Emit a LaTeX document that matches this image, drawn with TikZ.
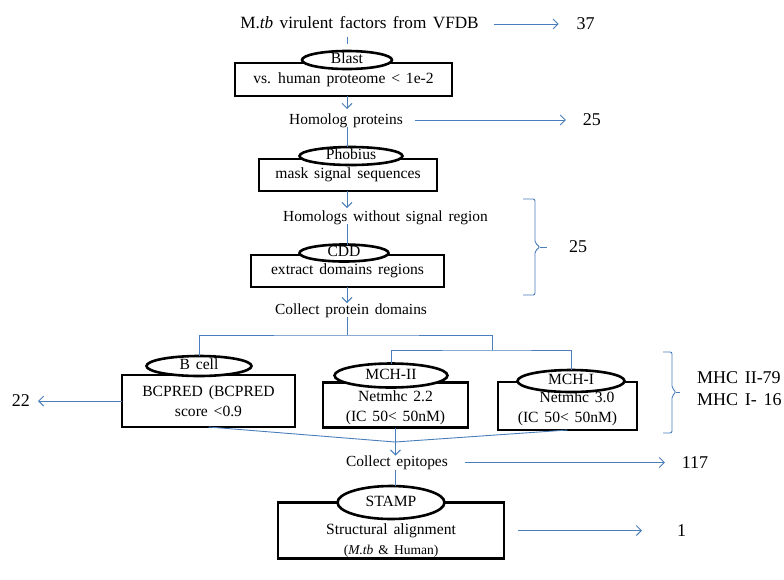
\documentclass[tikz,border=0pt]{standalone}
\usepackage{fontspec}
\setmainfont{Liberation Serif}[WordSpace=1.5]
\usetikzlibrary{arrows.meta,positioning,shapes.geometric}
\definecolor{linienblau}{RGB}{74,126,187}
\begin{document}
\begin{tikzpicture}
  [x=1pt,y=1pt,
  kasten/.style={rectangle,draw=black,line width=2.6pt,inner sep=0pt,outer sep=0pt,align=center,font=\fontsize{15.6}{20}\selectfont},
  oval/.style={ellipse,draw=black,line width=2.6pt,fill=white,inner sep=0pt,outer sep=0pt,text height=9pt,text depth=2pt,font=\fontsize{15.6}{18}\selectfont},
  schritt/.style={inner sep=0pt,outer sep=0pt,text height=11pt,text depth=3pt,font=\fontsize{15.4}{18}\selectfont},
  zahl/.style={inner sep=0pt,outer sep=0pt,font=\fontsize{18}{22}\selectfont},
  linie/.style={draw=linienblau,line width=0.9pt},
  pfeil/.style={linie,-{Straight Barb[length=5pt,width=10pt]}}]
  \useasboundingbox (0,0) rectangle (784,-579);
  \node (Titel) [schritt,font=\fontsize{17.2}{22}\selectfont,text height=13pt,text depth=4pt] at (359.5,-24) {M.\textit{tb} virulent factors from VFDB};
  \node (n37) [zahl, right=98pt of Titel] {37};
  \node (BlastK) [kasten, minimum width=217pt, minimum height=33pt, below=30.5pt of Titel, xshift=-16pt] {vs. human proteome < 1e-2};
  \node (Blast) [oval, minimum width=90pt, minimum height=18pt, above=-6pt of BlastK, xshift=3.5pt] {Blast};
  \node (Homolog) [schritt, below=17pt of BlastK, xshift=2.5pt] {Homolog proteins};
  \node (n25a) [zahl, right=180pt of Homolog] {25};
  \node (PhobiusK) [kasten, minimum width=178pt, minimum height=32pt, below=32pt of Homolog, xshift=2pt] {mask signal sequences};
  \node (Phobius) [oval, minimum width=103pt, minimum height=18pt, above=-6pt of PhobiusK, xshift=3pt] {Phobius};
  \node (Signal) [schritt, below=19pt of PhobiusK, xshift=37.5pt] {Homologs without signal region};
  \node (CDDK) [kasten, minimum width=193pt, minimum height=32pt, below=31pt of Signal, xshift=-38pt] {extract domains regions};
  \node (CDD) [oval, minimum width=89pt, minimum height=17pt, above=-6.5pt of CDDK, xshift=-3.5pt] {CDD};
  \node (Domaenen) [schritt, below=16pt of CDDK, xshift=3.5pt] {Collect protein domains};
  \node (n25b) [zahl] at (578,-247) {25};
  \node (BCellK) [kasten, minimum width=173pt, minimum height=52pt, below=58pt of Domaenen, xshift=-142.5pt] {BCPRED (BCPRED\\score <0.9};
  \node (BCell) [oval, minimum width=105pt, minimum height=20pt, above=-1pt of BCellK, xshift=-9.5pt] {B cell};
  \node (n22) [zahl, left=92pt of BCellK] {22};
  \node (MCH2K) [kasten, minimum width=145pt, minimum height=45pt, text height=36pt, text depth=3pt, right=28pt of BCellK, yshift=-4pt] {Netmhc 2.2\\(IC 50< 50nM)};
  \node (MCH2) [oval, minimum width=113pt, minimum height=24pt, above=-5pt of MCH2K, xshift=-4.5pt] {MCH-II};
  \node (MCH1K) [kasten, minimum width=139pt, minimum height=48pt, text height=36pt, text depth=3pt, right=30pt of MCH2K, yshift=-1pt] {\hspace*{19pt}Netmhc 3.0\\(IC 50< 50nM)};
  \node (MCH1) [oval, minimum width=107pt, minimum height=22pt, above=-10pt of MCH1K, xshift=3.5pt] {MCH-I};
  \node (MHC) [zahl, align=left, right=60pt of MCH1K, yshift=17pt] {MHC II-79\\MHC I- 16};
  \node (Epitope) [schritt, below=28pt of MCH2K, xshift=1.5pt] {Collect epitopes};
  \node (n117) [zahl, right=234pt of Epitope] {117};
  \node (StampK) [kasten, minimum width=226pt, minimum height=56pt, text height=52pt, text depth=4pt, below=33pt of Epitope, xshift=-6pt] {Structural alignment\\{\fontsize{13.5}{16}\selectfont(\textit{M.tb} \& Human)}};
  \node (Stamp) [oval, minimum width=107pt, minimum height=33pt, above=-16.5pt of StampK] {STAMP};
  \node (n1) [zahl, right=173pt of StampK] {1};
  \draw[linie, shorten <=4pt, shorten >=7pt] (Titel.south -| Blast.north) -- (Blast.north);
  \draw[pfeil, shorten <=15pt, shorten >=18pt] (Titel) -- (n37);
  \draw[pfeil, shorten >=4pt] (BlastK.south -| Blast) -- (Homolog.north -| Blast);
  \draw[pfeil, shorten <=12pt, shorten >=17pt] (Homolog) -- (n25a);
  \draw[linie] (Homolog.south -| Blast) -- (Phobius.north -| Blast);
  \draw[pfeil, shorten >=2pt] (PhobiusK.south -| Blast) -- (Signal.north -| Blast);
  \draw[linie] (Signal.south -| Blast) -- (CDD.north -| Blast);
  \draw[pfeil] (CDDK.south -| Blast) -- (Domaenen.north -| Blast);
  \draw[linie, rounded corners=2pt] (523,-199) -- (535,-199) -- (535,-243) -- (540,-247) -- (535,-251) -- (535,-295) -- (523,-295);
  \draw[linie] (540,-247) -- (547,-247);
  \coordinate (Gabel1) at (347,-335);
  \coordinate (Gabel2) at (492,-350);
  \draw[linie] (Domaenen.south -| Gabel1) -- (Gabel1);
  \draw[linie] (BCell.north) |- (Gabel1) -| (Gabel2);
  \draw[linie] (MCH2.north) |- (Gabel2) -| (MCH1.north);
  \draw[pfeil, shorten >=8pt] (BCellK) -- (n22);
  \draw[linie, rounded corners=2pt] (663,-352) -- (672,-352) -- (672,-388) -- (676,-392) -- (672,-396) -- (672,-433) -- (663,-433);
  \draw[linie] (676,-392) -- (680,-392);
  \coordinate (Treff) at (395,-442);
  \draw[linie] (BCellK.south) -- (Treff);
  \draw[linie] (MCH1K.south) -- (Treff);
  \draw[pfeil] (MCH2K.south) -- (Epitope.north -| MCH2K);
  \draw[pfeil, shorten <=17pt, shorten >=17pt] (Epitope) -- (n117);
  \draw[linie] (Epitope.south -| MCH2K) -- (Stamp.north -| MCH2K);
  \draw[pfeil, shorten <=14pt, shorten >=35pt] (StampK) -- (n1);
\end{tikzpicture}
\end{document}
